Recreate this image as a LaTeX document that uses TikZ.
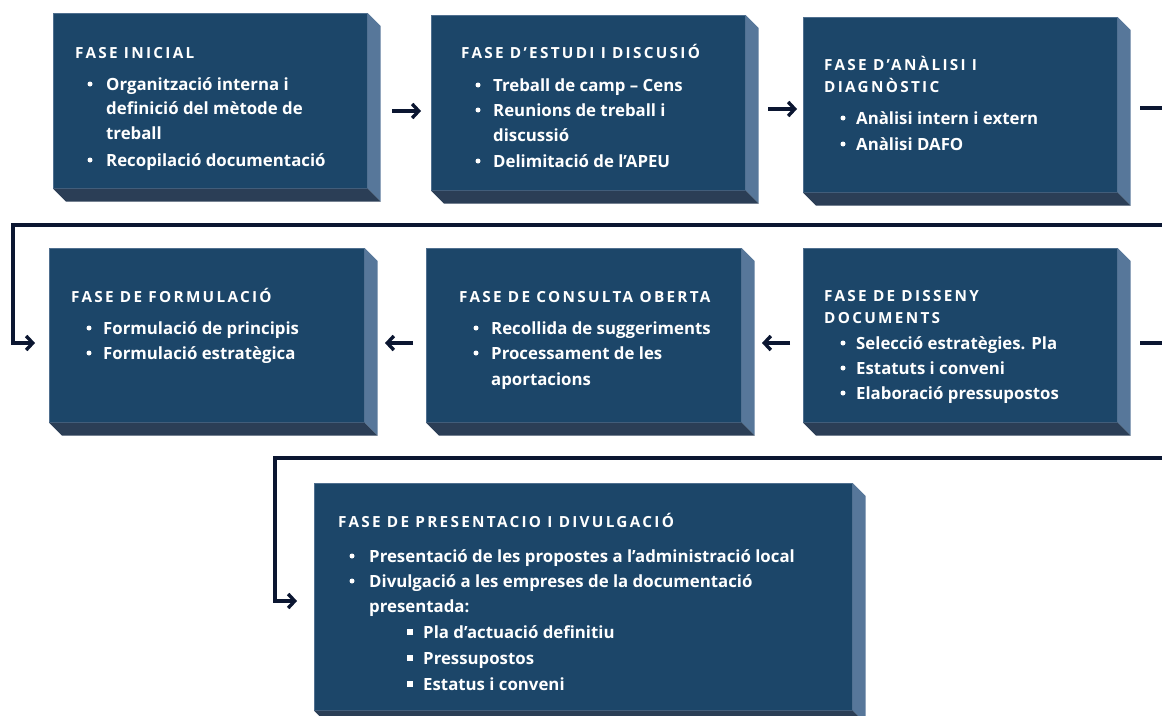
\documentclass[tikz,border=0pt]{standalone}
\usepackage{fontspec}
\setmainfont{Open Sans}
\usetikzlibrary{arrows.meta}
\definecolor{front}{HTML}{1C4669}
\definecolor{side}{HTML}{57779A}
\definecolor{bottomc}{HTML}{2B3E56}
\definecolor{edge}{HTML}{4F6F8F}
\definecolor{navy}{HTML}{0B1631}
\tikzset{
 phase/.style={rectangle, fill=front, draw=edge, line width=0.6pt, inner sep=0pt, anchor=north west},
 ttl/.style={anchor=base west, yshift=-5.5pt, inner sep=0pt, text=white, font=\fontsize{15.3}{17}\selectfont\bfseries\addfontfeatures{LetterSpace=15}},
 itm/.style={anchor=base west, yshift=-6.5pt, inner sep=0pt, text=white, font=\fontsize{16.8}{19}\selectfont\bfseries},
 dot/.style={circle, fill=white, inner sep=0pt, minimum size=5pt},
 sq/.style={rectangle, fill=white, inner sep=0pt, minimum size=6pt},
 link/.style={draw=navy, line width=3.4pt},
 arr/.style={link, -{Straight Barb[length=6.5pt,width=14pt]}},
}
\newcommand\sidefaces[1]{%
 \fill[side] (#1.north east) -- ++(13,13) -- ([shift={(13,13)}]#1.south east) -- (#1.south east) -- cycle;
 \fill[bottomc] (#1.south west) -- (#1.south east) -- ([shift={(13,13)}]#1.south east) -- ([shift={(13,13)}]#1.south west) -- cycle;
}
\begin{document}
\begin{tikzpicture}[x=1pt,y=-1pt]
\useasboundingbox (0,0) rectangle (1162,715);
% boxes
\node[phase, minimum width=314pt, minimum height=175pt] (b1) at (53,13) {};
\sidefaces{b1}
\node[phase, minimum width=314pt, minimum height=175pt] (b2) at (431,15) {};
\sidefaces{b2}
\node[phase, minimum width=314pt, minimum height=175pt] (b3) at (803,17) {};
\sidefaces{b3}
\node[phase, minimum width=315pt, minimum height=174pt] (b4) at (49,248) {};
\sidefaces{b4}
\node[phase, minimum width=315pt, minimum height=174pt] (b5) at (426,248) {};
\sidefaces{b5}
\node[phase, minimum width=314pt, minimum height=174pt] (b6) at (803,248) {};
\sidefaces{b6}
\node[phase, minimum width=538pt, minimum height=227pt] (b7) at (314,483) {};
\sidefaces{b7}
% box 1
\node[ttl] (b1t) at (75,53) {FASE INICIAL};
\node[dot] (b1d1) at (90,84) {};
\node[itm] (b1i1) at (106,84) {Organització interna i};
\node[itm] (b1i2) at (106,108) {definició del mètode de};
\node[itm] (b1i3) at (106,133) {treball};
\node[dot] (b1d2) at (90,160) {};
\node[itm] (b1i4) at (106,160) {Recopilació documentació};
% box 2
\node[ttl] (b2t) at (461,53) {FASE D’ESTUDI I DISCUSIÓ};
\node[dot] (b2d1) at (478,85) {};
\node[itm] (b2i1) at (493,85) {Treball de camp – Cens};
\node[dot] (b2d2) at (478,110) {};
\node[itm] (b2i2) at (493,110) {Reunions de treball i};
\node[itm] (b2i3) at (493,135) {discussió};
\node[dot] (b2d3) at (478,161) {};
\node[itm] (b2i4) at (493,161) {Delimitació de l’APEU};
% box 3
\node[ttl] (b3t1) at (824,65) {FASE D’ANÀLISI I};
\node[ttl] (b3t2) at (824,87) {DIAGNÒSTIC};
\node[dot] (b3d1) at (843,118) {};
\node[itm] (b3i1) at (856,118) {Anàlisi intern i extern};
\node[dot] (b3d2) at (843,144) {};
\node[itm] (b3i2) at (856,144) {Anàlisi DAFO};
% box 4
\node[ttl] (b4t) at (71,297) {FASE DE FORMULACIÓ};
\node[dot] (b4d1) at (89,328) {};
\node[itm] (b4i1) at (103,328) {Formulació de principis};
\node[dot] (b4d2) at (89,353) {};
\node[itm] (b4i2) at (103,353) {Formulació estratègica};
% box 5
\node[ttl] (b5t) at (459,297) {FASE DE CONSULTA OBERTA};
\node[dot] (b5d1) at (476,328) {};
\node[itm] (b5i1) at (491,328) {Recollida de suggeriments};
\node[dot] (b5d2) at (476,353) {};
\node[itm] (b5i2) at (491,353) {Processament de les};
\node[itm] (b5i3) at (491,379) {aportacions};
% box 6
\node[ttl] (b6t1) at (824,296) {FASE DE DISSENY};
\node[ttl] (b6t2) at (824,318) {DOCUMENTS};
\node[dot] (b6d1) at (843,343) {};
\node[itm] (b6i1) at (856,343) {Selecció estratègies. Pla};
\node[dot] (b6d2) at (843,368) {};
\node[itm] (b6i2) at (856,368) {Estatuts i conveni};
\node[dot] (b6d3) at (843,393) {};
\node[itm] (b6i3) at (856,393) {Elaboració pressupostos};
% box 7
\node[ttl] (b7t) at (338,522) {FASE DE PRESENTACIO I DIVULGACIÓ};
\node[dot] (b7d1) at (352,556) {};
\node[itm] (b7i1) at (369,556) {Presentació de les propostes a l’administració local};
\node[dot] (b7d2) at (352,581) {};
\node[itm] (b7i2) at (369,581) {Divulgació a les empreses de la documentació};
\node[itm] (b7i3) at (369,606) {presentada:};
\node[sq] (b7s1) at (410,632) {};
\node[itm] (b7i4) at (423,632) {Pla d’actuació definitiu};
\node[sq] (b7s2) at (410,658) {};
\node[itm] (b7i5) at (423,658) {Pressupostos};
\node[sq] (b7s3) at (410,684) {};
\node[itm] (b7i6) at (423,684) {Estatus i conveni};
% connectors
\coordinate (a1s) at (392,111); \coordinate (a1e) at (421,111);
\coordinate (a2s) at (768,109); \coordinate (a2e) at (797,109);
\coordinate (a3s) at (1140,108); \coordinate (a3e) at (1162,108);
\coordinate (a4s) at (1162,225); \coordinate (a4m) at (13,225); \coordinate (a4e) at (35,343);
\coordinate (a5s) at (790,343); \coordinate (a5e) at (762,343);
\coordinate (a6s) at (413,343); \coordinate (a6e) at (385,343);
\coordinate (a7s) at (1140,343); \coordinate (a7e) at (1162,343);
\coordinate (a8s) at (1162,458); \coordinate (a8m) at (275,458); \coordinate (a8e) at (297,601);
\draw[arr] (a1s) -- (a1e);
\draw[arr] (a2s) -- (a2e);
\draw[link] (a3s) -- (a3e);
\draw[arr] (a4s) -- (a4m) |- (a4e);
\draw[arr] (a5s) -- (a5e);
\draw[arr] (a6s) -- (a6e);
\draw[link] (a7s) -- (a7e);
\draw[arr] (a8s) -- (a8m) |- (a8e);
\end{tikzpicture}
\end{document}
